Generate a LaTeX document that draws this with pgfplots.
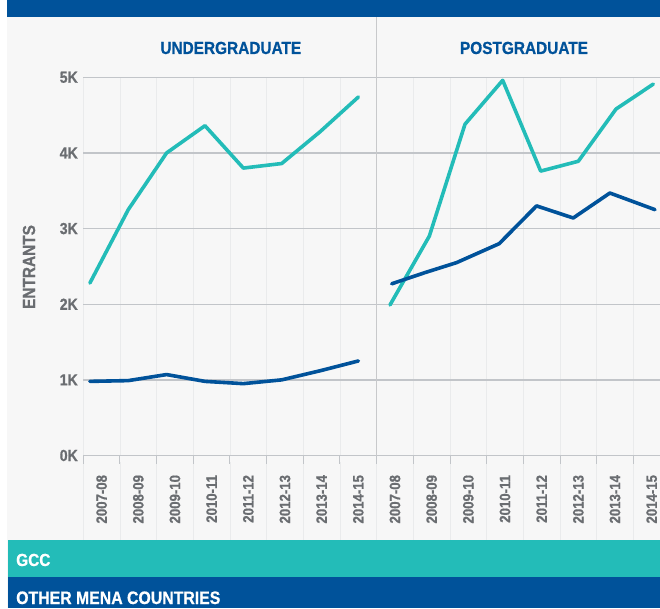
\documentclass[border=0pt]{standalone}
\usepackage{fontspec}
\setmainfont{Liberation Sans}[FakeStretch=0.88, BoldFeatures={FakeBold=0.8}]
\usepackage{pgfplots}
\pgfplotsset{compat=1.18}
\definecolor{mblue}{HTML}{00529A}
\definecolor{mteal}{HTML}{23BCB8}
\definecolor{bg}{HTML}{F7F7F7}
\definecolor{lbl}{HTML}{6A6D71}
\definecolor{gridc}{HTML}{C2C5C9}
\definecolor{faint}{HTML}{EAEBEC}
\definecolor{divc}{HTML}{C8C9CB}
\begin{document}
\begin{tikzpicture}[x=1pt,y=1pt]
\clip (0,0) rectangle (660,608);
\fill[white] (0,0) rectangle (660,608);
\fill[bg] (7,0) rectangle (660,608);
\fill[mblue] (7,591) rectangle (660,608);
\foreach \k in {0,...,16} \draw[faint, line width=0.8pt] ({83.3+36.67*\k},146) -- ({83.3+36.67*\k},68);
\begin{axis}[
  at={(83.3pt,152.5pt)}, anchor=south west,
  scale only axis, width=576.7pt, height=378.2pt,
  xmin=0, xmax=15.727, ymin=0, ymax=5,
  axis line style={draw=none},
  ytick={0,1,2,3,4,5}, yticklabels={0K,1K,2K,3K,4K,5K},
  ymajorgrids, major grid style={gridc, line width=1.3pt},
  major tick length=0pt,
  xtick={0.5,1.5,...,15.5},
  xticklabels={2007-08,2008-09,2009-10,2010-11,2011-12,2012-13,2013-14,2014-15,2007-08,2008-09,2009-10,2010-11,2011-12,2012-13,2013-14,2014-15},
  minor xtick={0,1,...,16}, xminorgrids, minor grid style={faint, line width=0.8pt},
  minor tick length=8pt, tick align=outside, tick pos=left,
  minor tick style={gridc, line width=1pt},
  xticklabel style={rotate=90, anchor=east, font=\bfseries\fontsize{15}{15}\selectfont, text=lbl},
  xticklabel shift=16pt,
  yticklabel style={font=\bfseries\fontsize{16}{16}\selectfont, text=lbl},
  yticklabel shift=2pt,
  clip=false,
]
\draw[divc, line width=1.5pt] (axis cs:8,0) -- (axis cs:8,5.8);
% Undergraduate
\addplot[mteal, line width=3.6pt, line cap=round, line join=round] coordinates {
 (0.18,2.28) (1.226,3.25) (2.272,4.00) (3.318,4.36) (4.364,3.80) (5.41,3.86) (6.456,4.28) (7.502,4.74)};
\addplot[mblue, line width=3.6pt, line cap=round, line join=round] coordinates {
 (0.18,0.98) (1.226,0.99) (2.272,1.07) (3.318,0.98) (4.364,0.95) (5.41,1.00) (6.456,1.12) (7.502,1.25)};
% Postgraduate
\addplot[mteal, line width=3.6pt, line cap=round, line join=round] coordinates {
 (8.364,1.99) (9.436,2.90) (10.409,4.38) (11.437,4.96) (12.473,3.76) (13.499,3.89) (14.527,4.58) (15.544,4.91)};
\addplot[mblue, line width=3.6pt, line cap=round, line join=round] coordinates {
 (8.41,2.27) (9.33,2.42) (10.18,2.55) (11.34,2.80) (12.36,3.30) (13.36,3.14) (14.36,3.47) (15.59,3.25)};
\end{axis}
\node[font=\bfseries\fontsize{17.5}{17.5}\selectfont, text=mblue, anchor=base] at (230.8,554) {UNDERGRADUATE};
\node[font=\bfseries\fontsize{17.5}{17.5}\selectfont, text=mblue, anchor=base] at (524,554) {POSTGRADUATE};
\node[rotate=90, font=\bfseries\fontsize{17.5}{17.5}\selectfont, text=lbl] at (29,341) {ENTRANTS};
\fill[mteal] (8,30.7) rectangle (660,68);
\fill[mblue] (8,0) rectangle (660,30.7);
\node[anchor=base west, inner sep=0pt, text=white, font=\bfseries\fontsize{17.5}{17.5}\selectfont] at (16,42) {GCC};
\node[anchor=base west, inner sep=0pt, text=white, font=\bfseries\fontsize{18}{18}\selectfont] at (16,4) {OTHER MENA COUNTRIES};
\end{tikzpicture}
\end{document}
